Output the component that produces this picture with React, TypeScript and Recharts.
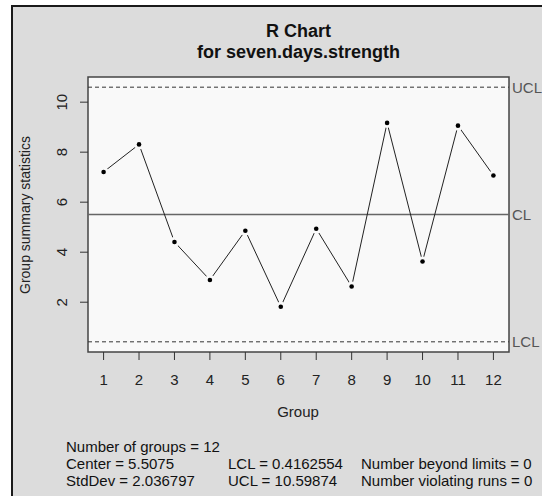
import React from 'react';
import {
  LineChart,
  Line,
  XAxis,
  YAxis,
  ReferenceLine,
  ReferenceArea,
} from 'recharts';

const groups = [1, 2, 3, 4, 5, 6, 7, 8, 9, 10, 11, 12];
const ranges = [7.21, 8.31, 4.41, 2.89, 4.86, 1.82, 4.94, 2.63, 9.17, 3.63, 9.06, 7.07];
const yTicks = [2, 4, 6, 8, 10];

const center = 5.5075;
const lcl = 0.4162554;
const ucl = 10.59874;
const stdDev = 2.036797;

// R pads the axis range by 4% on each side
const xPad = (groups[groups.length - 1] - groups[0]) * 0.04;
const xDomain = [groups[0] - xPad, groups[groups.length - 1] + xPad];
const yPad = (ucl - lcl) * 0.04;
const yDomain = [lcl - yPad, ucl + yPad];

const data = groups.map((g, i) => ({ group: g, value: ranges[i] }));

const FONT = '"Liberation Sans", Arial, sans-serif';
const PLOT_BG = '#f9f9f9';

// type="b" look: a small gap around each point
const Dot = (props: any) => {
  const { cx, cy } = props;
  if (cx == null || cy == null) return null;
  return (
    <g>
      <circle cx={cx} cy={cy} r={5} fill={PLOT_BG} />
      <circle cx={cx} cy={cy} r={2.3} fill="#000" />
    </g>
  );
};

const YTick = (props: any) => {
  const { x, y, payload } = props;
  return (
    <text
      x={x}
      y={y}
      dy="0.35em"
      transform={`rotate(-90 ${x} ${y})`}
      textAnchor="middle"
      fontSize={15}
      fill="#222"
      fontFamily={FONT}
    >
      {payload.value}
    </text>
  );
};

const footer = [
  ['Number of groups = 12', '', ''],
  [`Center = ${center}`, `LCL = ${lcl}`, 'Number beyond limits = 0'],
  [`StdDev = ${stdDev}`, `UCL = ${ucl}`, 'Number violating runs = 0'],
];
const footerCols = [66, 228, 361];

export default function App() {
  return (
    <div style={{ position: 'absolute', left: 0, top: 0, width: 542, height: 496, background: '#fff', overflow: 'hidden', fontFamily: FONT }}>
      <div
        style={{
          position: 'absolute',
          left: 11,
          top: 5,
          width: 540,
          height: 500,
          boxSizing: 'border-box',
          background: '#dcdcdc',
          borderLeft: '2px solid #1a1a1a',
          borderTop: '2px solid #1a1a1a',
        }}
      />
      <div style={{ position: 'absolute', left: 0, top: 21, width: 597, textAlign: 'center', fontSize: 18, fontWeight: 'bold', color: '#111', lineHeight: '21px' }}>
        R Chart
        <br />
        for seven.days.strength
      </div>
      <div style={{ position: 'absolute', left: 0, top: 0 }}>
        <LineChart width={542} height={496} data={data} margin={{ top: 77, right: 33, bottom: 104, left: 28 }}>
          <ReferenceArea
            x1={xDomain[0]}
            x2={xDomain[1]}
            y1={yDomain[0]}
            y2={yDomain[1]}
            fill={PLOT_BG}
            fillOpacity={1}
            stroke="#444"
            strokeWidth={1.5}
          />
          <XAxis
            type="number"
            dataKey="group"
            domain={xDomain}
            ticks={groups}
            interval={0}
            allowDataOverflow
            axisLine={false}
            tickLine={{ stroke: '#333' }}
            tickSize={8}
            tickMargin={14}
            height={40}
            tick={{ fontSize: 15, fill: '#222', fontFamily: FONT }}
          />
          <YAxis
            type="number"
            domain={yDomain}
            ticks={yTicks}
            allowDataOverflow
            axisLine={false}
            tickLine={{ stroke: '#333' }}
            tickSize={8}
            tickMargin={18}
            width={60}
            tick={<YTick />}
          />
          <ReferenceLine
            y={ucl}
            stroke="#333"
            strokeDasharray="4 3"
            label={{ value: 'UCL', position: 'right', offset: 3, fill: '#555', fontSize: 15, fontFamily: FONT }}
          />
          <ReferenceLine
            y={center}
            stroke="#666"
            strokeWidth={1.5}
            label={{ value: 'CL', position: 'right', offset: 3, fill: '#555', fontSize: 15, fontFamily: FONT }}
          />
          <ReferenceLine
            y={lcl}
            stroke="#333"
            strokeDasharray="4 3"
            label={{ value: 'LCL', position: 'right', offset: 3, fill: '#555', fontSize: 15, fontFamily: FONT }}
          />
          <Line
            type="linear"
            dataKey="value"
            stroke="#222"
            strokeWidth={1}
            dot={<Dot />}
            activeDot={false}
            isAnimationActive={false}
          />
        </LineChart>
      </div>
      <div style={{ position: 'absolute', left: 248, top: 403, width: 100, textAlign: 'center', fontSize: 15, color: '#222' }}>
        Group
      </div>
      <div
        style={{
          position: 'absolute',
          left: 25,
          top: 215,
          transform: 'translate(-50%, -50%) rotate(-90deg)',
          whiteSpace: 'nowrap',
          fontSize: 14,
          color: '#222',
        }}
      >
        Group summary statistics
      </div>
      {footer.map((row, r) =>
        row.map((txt, c) =>
          txt ? (
            <div
              key={`${r}-${c}`}
              style={{ position: 'absolute', left: footerCols[c], top: 438 + r * 17, fontSize: 15, color: '#111', lineHeight: '18px', whiteSpace: 'nowrap' }}
            >
              {txt}
            </div>
          ) : null
        )
      )}
    </div>
  );
}
